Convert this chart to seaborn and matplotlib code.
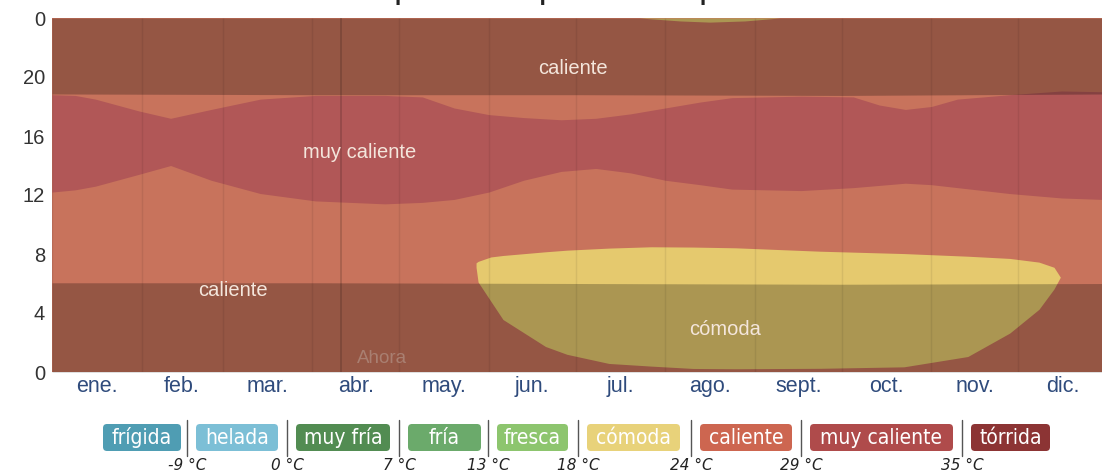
import matplotlib
matplotlib.use("Agg")
import matplotlib.pyplot as plt
from matplotlib.patches import FancyBboxPatch
import seaborn as sns
import numpy as np

# ---------------- data ----------------
months = ["ene.", "feb.", "mar.", "abr.", "may.", "jun.", "jul.", "ago.",
          "sept.", "oct.", "nov.", "dic."]
month_mid_days = [15.5, 45, 74.5, 105, 135.5, 166, 196.5, 227.5, 258, 288.5, 319, 349.5]
month_start_days = [0, 31, 59, 90, 120, 151, 181, 212, 243, 273, 304, 334]

hour_ticks = [0, 4, 8, 12, 16, 20, 24]
hour_tick_labels = ["0", "4", "8", "12", "16", "20", "0"]

# muy caliente band (hours)
mc_days = [0, 8, 15, 30, 41, 55, 72, 91, 115, 128, 139, 151, 163, 176, 188, 200,
           212, 224, 235, 259, 277, 286, 295, 304, 313, 331, 349, 363]
mc_lo = [12.2, 12.35, 12.6, 13.4, 14.0, 13.0, 12.1, 11.6, 11.4, 11.5, 11.7, 12.2,
         13.0, 13.6, 13.8, 13.5, 13.0, 12.7, 12.4, 12.3, 12.5, 12.65, 12.8, 12.7,
         12.5, 12.1, 11.8, 11.7]
mc_hi = [18.8, 18.75, 18.5, 17.7, 17.2, 17.8, 18.5, 18.75, 18.75, 18.65, 17.9,
         17.45, 17.25, 17.1, 17.2, 17.5, 17.9, 18.3, 18.6, 18.7, 18.65, 18.1, 17.8,
         18.0, 18.5, 18.8, 19.05, 19.0]

# cómoda band (hours)
com_days = [146.6, 147.3, 151.7, 155.9, 170.6, 178.0, 192.5, 207.1, 221.6, 236.3,
            265.5, 294.5, 316.6, 331.1, 341.2, 346.4, 348.6]
com_lo = [7.1, 6.1, 4.8, 3.56, 1.73, 1.2, 0.58, 0.4, 0.24, 0.22, 0.25, 0.35,
          1.05, 2.64, 4.25, 5.63, 6.43]
com_hi = [7.4, 7.5, 7.8, 7.9, 8.15, 8.26, 8.4, 8.49, 8.47, 8.42, 8.19, 8.03,
          7.85, 7.7, 7.45, 7.1, 6.43]

# small cómoda patch at the end of the day
com2_days = [203.2, 217.1, 227.4, 239.5, 251.6]
com2_lo = [24.0, 23.8, 23.72, 23.8, 24.0]

# night (sunrise / sunset, hours)
night_days = [0, 91, 182, 273, 365]
sunrise = [6.05, 6.05, 6.0, 5.95, 6.0]
sunset = [18.85, 18.8, 18.8, 18.75, 18.85]

now_day = 100

# legend
leg_names = ["frígida", "helada", "muy fría", "fría", "fresca", "cómoda",
             "caliente", "muy caliente", "tórrida"]
leg_colors = ["#4F9DB3", "#7CBFD6", "#528C52", "#6BAA6B", "#8DC56E", "#E8D27A",
              "#CD6650", "#AF4B4B", "#8C3434"]
leg_thresholds = ["-9 °C", "0 °C", "7 °C", "13 °C", "18 °C", "24 °C", "29 °C", "35 °C"]

# ---------------- style ----------------
sns.set_theme(style="white")
plt.rcParams["font.family"] = ["Liberation Sans", "DejaVu Sans"]

C_CALIENTE = "#C8735C"
C_MUY = "#B15757"
C_COMODA = "#E5C96E"

W, H = 1102, 475
fig = plt.figure(figsize=(W / 100, H / 100), dpi=100)
ax = fig.add_axes([52 / W, 103 / H, 1050 / W, 354 / H])

XMAX = 363
ax.fill_between([0, 365], 0, 24, color=C_CALIENTE, lw=0)
ax.fill_between(mc_days, mc_lo, mc_hi, color=C_MUY, lw=0)
ax.fill_between(com_days, com_lo, com_hi, color=C_COMODA, lw=0)
ax.fill_between(com2_days, com2_lo, 24, color=C_COMODA, lw=0)
ax.fill_between(night_days, 0, sunrise, color="black", alpha=0.25, lw=0)
ax.fill_between(night_days, sunset, 24, color="black", alpha=0.25, lw=0)

ax.vlines(month_start_days, 0, 24, color="black", alpha=0.07, lw=1)
ax.vlines([now_day], 0, 24, color="black", alpha=0.16, lw=1.3)

ax.set_xlim(0, XMAX)
ax.set_ylim(0, 24)
ax.set_yticks(hour_ticks)
ax.set_yticklabels(hour_tick_labels, fontsize=14.5, color="#333333")
ax.set_xticks(month_mid_days)
ax.set_xticklabels(months, fontsize=15.5, color="#2F4B7C")
ax.tick_params(axis="both", length=0, pad=5)
ax.tick_params(axis="x", pad=3)
for s in ax.spines.values():
    s.set_visible(False)
ax.grid(False)

lbl = dict(color="#F4E6DC", fontsize=14.5, ha="center", va="center")
ax.text(180, 20.6, "caliente", **lbl)
ax.text(106.5, 14.9, "muy caliente", **lbl)
ax.text(62.6, 5.5, "caliente", **lbl)
ax.text(232.6, 2.85, "cómoda", **lbl)
ax.text(114, 0.9, "Ahora", color="#A97F71", fontsize=13.5, ha="center", va="center")

# partially visible title (cut by the top edge as in the reference)
fig.text(580 / W, 1 + 3 / H, "Temperatura promedio por hora", fontsize=26,
         ha="center", va="baseline", color="#222222")

# ---------------- legend ----------------
lax = fig.add_axes([0, 0, 1, 1], facecolor="none")
lax.set_xlim(0, W)
lax.set_ylim(H, 0)
lax.axis("off")
box_x0 = [101, 194, 294, 406, 495, 585, 698, 808, 969]
box_x1 = [183, 280, 392, 483, 570, 682, 794, 955, 1052]
seps = [187, 287, 399, 488, 578, 691, 801, 962]
for name, col, x0, x1 in zip(leg_names, leg_colors, box_x0, box_x1):
    lax.add_patch(FancyBboxPatch((x0 + 2, 424), x1 - x0 - 4, 27,
                                 boxstyle="round,pad=0,rounding_size=4",
                                 fc=col, ec="none"))
    lax.text((x0 + x1) / 2, 438, name, color="white", fontsize=15,
             family=["Liberation Sans Narrow", "DejaVu Sans"],
             fontstretch="condensed", ha="center", va="center")
for sx, t in zip(seps, leg_thresholds):
    lax.plot([sx, sx], [420, 456], color="#555555", lw=1)
    lax.text(sx, 465, t, fontsize=11, style="italic", color="#222222",
             family=["Liberation Sans Narrow", "DejaVu Sans"],
             ha="center", va="center")

fig.savefig("out.png", dpi=100)
